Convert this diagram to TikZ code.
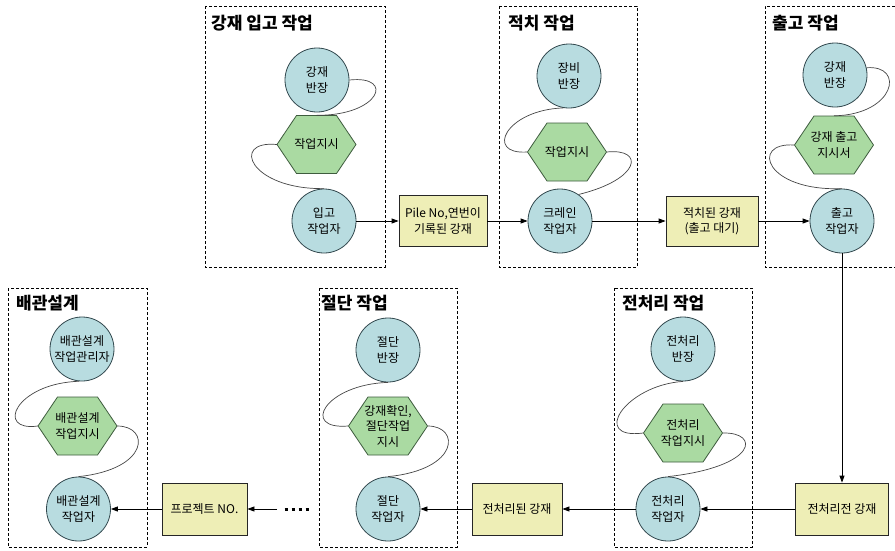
\documentclass[tikz,border=0pt]{standalone}
\usepackage{fontspec}
\setmainfont{Noto Sans CJK KR}
\usetikzlibrary{arrows.meta,calc}
\definecolor{circfill}{RGB}{184,220,224}
\definecolor{circdraw}{RGB}{50,72,78}
\definecolor{hexfill}{RGB}{170,218,162}
\definecolor{hexdraw}{RGB}{62,92,62}
\definecolor{boxfill}{RGB}{238,238,182}
\definecolor{curvecol}{RGB}{70,70,70}
\tikzset{
 body/.style={font=\fontsize{12}{15.5}\selectfont, align=center},
 circ/.style={body, circle, draw=circdraw, fill=circfill, minimum size=64pt, inner sep=0pt, line width=0.8pt},
 hexn/.style={body, rectangle, minimum width=79pt, minimum height=58pt, inner sep=0pt},
 ybox/.style={body, rectangle, draw=black!85, fill=boxfill, inner sep=0pt, line width=0.8pt},
 grp/.style={draw=black, line width=0.7pt, dash pattern=on 3pt off 2pt},
 ttl/.style={font=\fontsize{17}{20}\selectfont\bfseries, anchor=west, inner sep=0pt},
 arr/.style={-{Triangle[length=7pt,width=5pt]}, line width=0.8pt, black},
 wig/.style={draw=curvecol, line width=0.7pt},
}
\newcommand{\hexat}[3]{%
  \filldraw[fill=hexfill, draw=hexdraw, line width=0.8pt] ($(#2)+(-39.5,0)$) -- ++(19.5,-29) -- ++(40,0) -- ++(19.5,29) -- ++(-19.5,29) -- ++(-40,0) -- cycle;
  \node[hexn] (#1) at (#2) {#3};
}
\begin{document}
\begin{tikzpicture}[x=1pt,y=-1pt]
\useasboundingbox (0,0) rectangle (895,550);
\clip (0,0) rectangle (895,550);
\fill[white] (0,0) rectangle (895,550);

% group frames
\draw[grp] (205,6) rectangle (385,267);
\draw[grp] (499,6) rectangle (637,267);
\draw[grp] (905,6) -- (765,6) -- (765,267) -- (905,267);
\draw[grp] (614,288) rectangle (752,547);
\draw[grp] (319,288) rectangle (457,547);
\draw[grp] (8,288) rectangle (147,547);

\node[ttl] (t1) at (211,23) {강재 입고 작업};
\node[ttl] (t2) at (508,23) {적치 작업};
\node[ttl] (t3) at (772,23) {출고 작업};
\node[ttl] (t4) at (622,303) {전처리 작업};
\node[ttl] (t5) at (321,303) {절단 작업};
\node[ttl] (t6) at (16,303) {배관설계};

% group 1
\node[circ] (A1) at (317,80) {강재\\반장};
\hexat{H1}{316.5,144.5}{작업지시}
\node[circ] (B1) at (324,221) {입고\\작업자};
% group 2
\node[circ] (A2) at (569,76) {장비\\반장};
\hexat{H2}{567,152}{작업지시}
\node[circ] (B2) at (560,221) {크레인\\작업자};
% group 3
\node[circ] (A3) at (835,75) {강재\\반장};
\hexat{H3}{834,145}{강재 출고\\지시서}
\node[circ] (B3) at (842,221) {출고\\작업자};
% group 4
\node[circ] (A4) at (683,349) {전처리\\반장};
\hexat{H4}{683,433}{전처리\\작업지시}
\node[circ] (B4) at (668,509) {전처리\\작업자};
% group 5
\node[circ] (A5) at (388,350) {절단\\반장};
\hexat{H5}{388,426}{강재확인,\\절단작업\\지시}
\node[circ] (B5) at (388,509) {절단\\작업자};
% group 6
\node[circ] (A6) at (82,349) {배관설계\\작업관리자};
\hexat{H6}{77.5,426}{배관설계\\작업지시}
\node[circ] (B6) at (78.5,509) {배관설계\\작업자};

% yellow boxes
\node[ybox, minimum width=88pt, minimum height=51pt] (Y1) at (443,221) {Pile No,연번이\\기록된 강재};
\node[ybox, minimum width=92pt, minimum height=50pt] (Y2) at (712,221) {적치된 강재\\(출고 대기)};
\node[ybox, minimum width=93pt, minimum height=52pt] (Y3) at (842,509) {전처리전 강재};
\node[ybox, minimum width=90pt, minimum height=52pt] (Y4) at (517,509) {전처리된 강재};
\node[ybox, minimum width=85pt, minimum height=52pt] (Y5) at (204.5,509) {프로젝트 NO.};

% wiggly links
\draw[wig] (A1.east) .. controls +(46,-5) and +(63.5,0.5) .. (H1.north);
\draw[wig] (H1.west) .. controls +(-47,-4.5) and +(-74,1) .. (B1.north);
\draw[wig] (A2.260) .. controls +(-58,2) and +(-43,3) .. (H2.west);
\draw[wig] (H2.east) .. controls +(38.5,-4) and +(62,-15) .. (B2.55);
\draw[wig] (A3.13) .. controls +(39,-3) and +(61,-1) .. (H3.north);
\draw[wig] (H3.west) .. controls +(-44.5,-3) and +(-77,3) .. (B3.north);
\draw[wig] (A4.south) .. controls +(-58,4) and +(-53.5,7) .. (H4.west);
\draw[wig] (H4.east) .. controls +(37.5,-1) and +(90,-10) .. (B4.north);
\draw[wig] (A5.south) .. controls +(-63,2) and +(-48.5,4) .. (H5.west);
\draw[wig] (H5.east) .. controls +(32.5,0) and +(72,-7) .. (B5.north);
\draw[wig] (A6.265) .. controls +(-64,2) and +(-43,6) .. (H6.west);
\draw[wig] (H6.east) .. controls +(33,0) and +(71.5,-7.5) .. (B6.north);

% flow arrows
\draw[arr] (B1.east) -- (Y1.west);
\draw[arr] (Y1.east) -- (B2.west);
\draw[arr] (B2.east) -- (Y2.west);
\draw[arr] (Y2.east) -- (B3.west);
\draw[arr] (B3.south) -- (Y3.north);
\draw[arr] (Y3.west) -- (B4.east);
\draw[arr] (B4.west) -- (Y4.east);
\draw[arr] (Y4.west) -- (B5.east);
\coordinate (dA) at (277,509);
\draw[arr] (dA) -- (Y5.east);
\draw[arr] (Y5.west) -- (B6.east);
\coordinate (d1) at (284.5,509);
\coordinate (d2) at (312,509);
\draw[line width=3pt, dash pattern=on 3pt off 4pt] (d1) -- (d2);
\end{tikzpicture}
\end{document}
